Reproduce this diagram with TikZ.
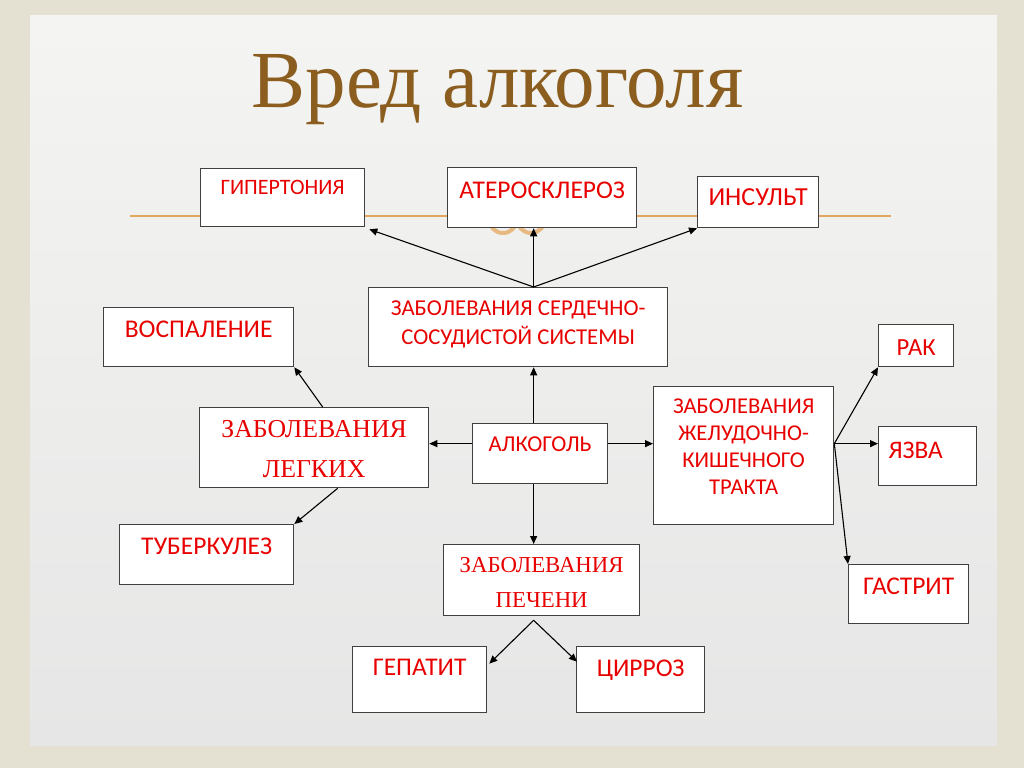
\documentclass[tikz,border=0pt]{standalone}
\usepackage{fontspec}
\setmainfont{Liberation Serif}
\newfontfamily\calf{Carlito}
\usetikzlibrary{arrows.meta}
\definecolor{bgout}{RGB}{228,225,210}
\definecolor{bgtop}{RGB}{244,244,242}
\definecolor{bgbot}{RGB}{230,230,230}
\definecolor{titlec}{RGB}{139,94,32}
\definecolor{linec}{RGB}{226,168,98}
\definecolor{boxc}{RGB}{64,64,64}
\definecolor{txtc}{RGB}{232,0,0}
\newcommand\boxtxt[4]{\parbox[c][#2pt][t]{#1pt}{\centering\vspace*{#3pt}#4\par}}
\begin{document}
\begin{tikzpicture}[x=1pt,y=-1pt,
  box/.style={draw=boxc, fill=white, line width=1.3pt, inner sep=0pt, anchor=north west, text=txtc},
  arr/.style={draw=black, line width=1.1pt, -{Triangle[length=8pt,width=7pt]}}]
\useasboundingbox (0,0) rectangle (1024,768);
\fill[bgout] (0,0) rectangle (1024,768);
\shade[top color=bgtop, bottom color=bgbot] (30,16) rectangle (997,745);
% title
\node[anchor=base, text=titlec, inner sep=0pt, font=\fontsize{81}{90}\selectfont] (title) at (497.5,107) {Вред алкоголя};
% decorative line and rings
\draw[linec, line width=1.4pt] (130,216) -- (891,216);
\draw[linec!80, line width=4pt] (503,219) circle (14);
\draw[linec!80, line width=4pt] (531,219) circle (14);
% boxes
\node[box] (hyp) at (200,168) {\calf\fontsize{22}{26}\selectfont\boxtxt{164}{58}{12}{ГИПЕРТОНИЯ}};
\node[box] (ath) at (447,167) {\calf\fontsize{25.5}{28}\selectfont\boxtxt{189}{60}{14}{АТЕРОСКЛЕРОЗ}};
\node[box] (ins) at (697,176) {\calf\fontsize{26}{30}\selectfont\boxtxt{121}{51}{12}{ИНСУЛЬТ}};
\node[box] (heart) at (368,287) {\calf\fontsize{22.7}{29}\selectfont\boxtxt{299}{79}{13}{ЗАБОЛЕВАНИЯ СЕРДЕЧНО-\\СОСУДИСТОЙ СИСТЕМЫ}};
\node[box] (vosp) at (103,307) {\calf\fontsize{25.5}{26}\selectfont\boxtxt{190}{59}{13}{ВОСПАЛЕНИЕ}};
\node[box] (lung) at (199,407) {\fontsize{25.8}{40}\selectfont\boxtxt{229}{80}{13}{ЗАБОЛЕВАНИЯ\\ЛЕГКИХ}};
\node[box] (alc) at (472,423) {\calf\fontsize{22.7}{26}\selectfont\boxtxt{135}{60}{13}{АЛКОГОЛЬ}};
\node[box] (tub) at (119,524) {\calf\fontsize{25.5}{26}\selectfont\boxtxt{174}{60}{13}{ТУБЕРКУЛЕЗ}};
\node[box] (liver) at (443,544) {\fontsize{22.8}{35}\selectfont\boxtxt{196}{71}{13}{ЗАБОЛЕВАНИЯ\\ПЕЧЕНИ}};
\node[box] (hep) at (352,646) {\calf\fontsize{25.5}{27}\selectfont\boxtxt{134}{66}{12}{ГЕПАТИТ}};
\node[box] (cir) at (576,646) {\calf\fontsize{25.5}{27}\selectfont\boxtxt{128}{66}{13}{ЦИРРОЗ}};
\node[box] (gi) at (653,386) {\calf\fontsize{22.6}{27}\selectfont\boxtxt{180}{138}{12}{ЗАБОЛЕВАНИЯ\\ЖЕЛУДОЧНО-\\КИШЕЧНОГО\\ТРАКТА}};
\node[box] (rak) at (878,324) {\calf\fontsize{24.6}{26}\selectfont\boxtxt{75}{42}{15}{РАК}};
\node[box] (yaz) at (878,426) {\calf\fontsize{25.3}{26}\selectfont\boxtxt{98}{59}{15}{ЯЗВА\hspace*{24pt}}};
\node[box] (gas) at (848,564) {\calf\fontsize{25.5}{26}\selectfont\boxtxt{120}{59}{13}{ГАСТРИТ}};
% ports
\coordinate (hub) at ([xshift=15.5pt]heart.north);
\coordinate (aup) at ([xshift=-6.5pt]alc.north);
\coordinate (adn) at ([xshift=-6.5pt]alc.south);
\coordinate (aw) at ([yshift=10pt]alc.west);
\coordinate (ae) at ([yshift=10pt]alc.east);
\coordinate (lup) at ([xshift=8.5pt]lung.north);
\coordinate (ldn) at ([xshift=23.5pt]lung.south);
\coordinate (gport) at ([yshift=12pt]gi.east);
\coordinate (lvdn) at ([xshift=-8pt,yshift=-4pt]liver.south);
% connectors
\draw[arr] (hub) -- ([xshift=4pt,yshift=-2pt]hyp.south east);
\draw[arr] (hub) -- (hub |- ath.south);
\draw[arr] (hub) -- (ins.south west);
\draw[arr] (aup) -- (aup |- heart.south);
\draw[arr] (adn) -- (adn |- liver.north);
\draw[arr] (aw) -- (aw -| lung.east);
\draw[arr] (ae) -- (ae -| gi.west);
\draw[arr] (lup) -- (vosp.south east);
\draw[arr] (ldn) -- (tub.north east);
\draw[arr] (gport) -- (rak.south west);
\draw[arr] (gport) -- (gport -| yaz.west);
\draw[arr] (gport) -- (gas.north west);
\draw[arr] (lvdn) -- ([xshift=2pt,yshift=16pt]hep.east);
\draw[arr] (lvdn) -- ([xshift=1pt,yshift=18pt]cir.west);
\end{tikzpicture}
\end{document}
